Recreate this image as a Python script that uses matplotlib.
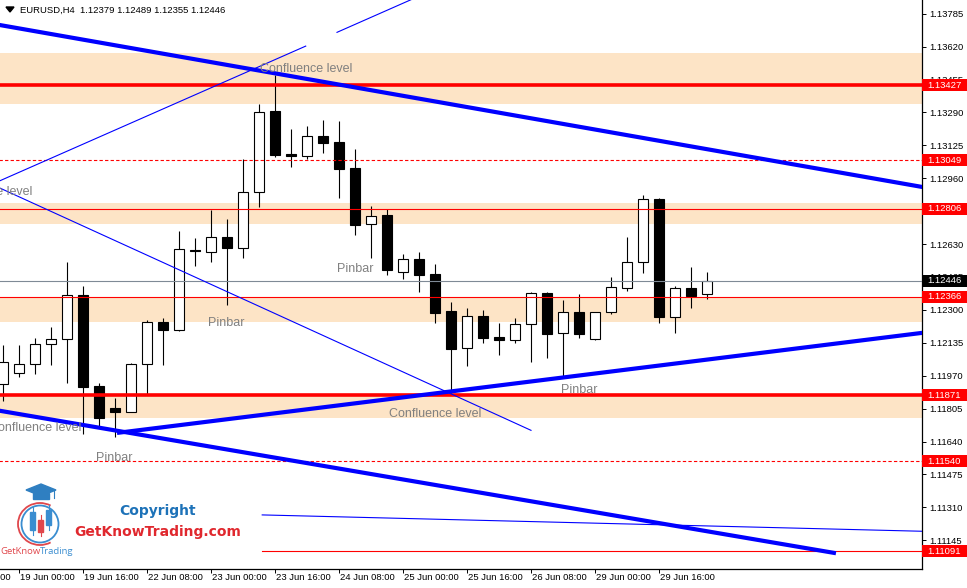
import matplotlib
matplotlib.use("Agg")
import matplotlib.pyplot as plt
from matplotlib.patches import Rectangle, Circle, Arc, Polygon

# EURUSD H4 candles, bar 0 = 18 Jun 20:00 (prices)
opens = [1.11927, 1.11982, 1.12027, 1.12127, 1.12152, 1.12374, 1.11918, 1.11808, 1.11789, 1.12027,
         1.12239, 1.12198, 1.12602, 1.12591, 1.12664, 1.12608, 1.12892, 1.13295, 1.13080, 1.13070,
         1.13171, 1.13141, 1.13011, 1.12729, 1.12774, 1.12488, 1.12553, 1.12480, 1.12294, 1.12107,
         1.12268, 1.12162, 1.12150, 1.12228, 1.12383, 1.12182, 1.12288, 1.12155, 1.12288, 1.12411,
         1.12538, 1.12854, 1.12266, 1.12408, 1.12379]
highs = [1.12124, 1.12124, 1.12157, 1.12212, 1.12540, 1.12420, 1.11932, 1.11857, 1.12032, 1.12249,
         1.12258, 1.12695, 1.12659, 1.12800, 1.12754, 1.13055, 1.13332, 1.13477, 1.13205, 1.13222,
         1.13252, 1.13247, 1.13105, 1.12821, 1.12804, 1.12578, 1.12588, 1.12530, 1.12339, 1.12308,
         1.12299, 1.12236, 1.12258, 1.12388, 1.12389, 1.12348, 1.12378, 1.12288, 1.12465, 1.12665,
         1.12876, 1.12859, 1.12420, 1.12513, 1.12489]
lows = [1.11845, 1.11965, 1.11978, 1.12023, 1.11935, 1.11676, 1.11709, 1.11664, 1.11789, 1.11878,
        1.12023, 1.12195, 1.12521, 1.12541, 1.12323, 1.12558, 1.12814, 1.13065, 1.13015, 1.13055,
        1.13085, 1.12862, 1.12677, 1.12561, 1.12476, 1.12453, 1.12391, 1.12232, 1.11880, 1.12020,
        1.12135, 1.12075, 1.12132, 1.12040, 1.12060, 1.11960, 1.12160, 1.12149, 1.12279, 1.12396,
        1.12486, 1.12236, 1.12185, 1.12311, 1.12355]
closes = [1.12037, 1.12027, 1.12127, 1.12152, 1.12373, 1.11915, 1.11759, 1.11789, 1.12028, 1.12239,
          1.12199, 1.12603, 1.12597, 1.12664, 1.12608, 1.12892, 1.13290, 1.13078, 1.13070, 1.13170,
          1.13138, 1.13007, 1.12727, 1.12772, 1.12501, 1.12553, 1.12476, 1.12286, 1.12105, 1.12268,
          1.12160, 1.12150, 1.12228, 1.12383, 1.12180, 1.12288, 1.12180, 1.12288, 1.12413, 1.12538,
          1.12854, 1.12266, 1.12408, 1.12371, 1.12446]

price_ticks = [1.13785, 1.13620, 1.13455, 1.13290, 1.13125, 1.12960, 1.12795, 1.12630, 1.12465,
               1.12300, 1.12135, 1.11970, 1.11805, 1.11640, 1.11475, 1.11310, 1.11145]
date_bars = [-3, 1, 5, 9, 13, 17, 21, 25, 29, 33, 37, 41]
date_labels = ["18 Jun 08:00", "19 Jun 00:00", "19 Jun 16:00", "22 Jun 08:00", "23 Jun 00:00",
               "23 Jun 16:00", "24 Jun 08:00", "25 Jun 00:00", "25 Jun 16:00", "26 Jun 08:00",
               "29 Jun 00:00", "29 Jun 16:00"]

# supply/demand zones
zone_lo = [1.13332, 1.12729, 1.12241, 1.11760]
zone_hi = [1.13587, 1.12836, 1.12366, 1.11871]

# horizontal levels (red) and the bar they start from
levels = [1.13427, 1.13049, 1.12806, 1.12366, 1.11871, 1.11540, 1.11091]
level_from = [-2, -2, -2, -2, -2, -2, 16.2]
last_price = 1.12446

# trend lines: (bar0, price0, bar1, price1)
thick_lines = [(-2, 1.13753, 60, 1.12880),
               (7.125, 1.11683, 60, 1.12210),
               (-1.44, 1.11811, 52.06, 1.11080)]
thin_lines = [(-1.44, 1.12903, 18.92, 1.13622),
              (20.875, 1.13691, 28, 1.13943),
              (-1.44, 1.12956, 33, 1.11696),
              (16.2, 1.11272, 60, 1.11185)]

notes = ["Confluence level", "Confluence level", "Pinbar", "Pinbar",
         "Confluence level", "Pinbar", "Confluence level", "Pinbar"]
note_bar = [16.06, -3.94, 20.875, 12.81, 24.125, 34.875, -0.875, 5.81]
note_price = [1.13507, 1.12891, 1.12505, 1.12234, 1.11778, 1.11898, 1.11708, 1.11557]

W, H = 967, 588
fig = plt.figure(figsize=(W / 100, H / 100), dpi=100)
ax = fig.add_axes([0, 19 / H, 922 / W, 569 / H])
ax.set_xlim(-0.1875, 57.4375)
ax.set_ylim(1.110009, 1.138531)

for lo, hi in zip(zone_lo, zone_hi):
    ax.axhspan(lo, hi, color="#fde4c6", lw=0, zorder=0)

# candles
for i, (o, h, l, c) in enumerate(zip(opens, highs, lows, closes)):
    ax.plot([i, i], [l, h], color="black", lw=0.8, zorder=3, solid_capstyle="butt")
    b0, b1 = min(o, c), max(o, c)
    ax.add_patch(Rectangle((i - 0.3, b0), 0.6, b1 - b0, facecolor="white" if c > o else "black",
                           edgecolor="black", lw=0.8, zorder=4))

# levels
style = {1.13427: ("-", 2.6), 1.11871: ("-", 2.6), 1.13049: ((0, (3, 2)), 0.8), 1.11540: ((0, (3, 2)), 0.8)}
for lv, x0 in zip(levels, level_from):
    ls, lw = style.get(lv, ("-", 0.8))
    ax.plot([x0, 60], [lv, lv], color="#ff0000", lw=lw, ls=ls, zorder=5)
ax.axhline(last_price, color="#7f8a96", lw=0.8, zorder=5)

for x0, p0, x1, p1 in thick_lines:
    ax.plot([x0, x1], [p0, p1], color="#0000ff", lw=3.0, zorder=6, solid_capstyle="butt")
for x0, p0, x1, p1 in thin_lines:
    ax.plot([x0, x1], [p0, p1], color="#0000ff", lw=0.8, zorder=6)

for t, x, y in zip(notes, note_bar, note_price):
    ax.text(x, y, t, fontsize=9, color="#808080", ha="left", va="center",
            family="Liberation Sans", zorder=7, clip_on=True)

# axes look
for s in ["top", "left"]:
    ax.spines[s].set_visible(False)
for s in ["right", "bottom"]:
    ax.spines[s].set_linewidth(0.9)
ax.yaxis.tick_right()
ax.set_yticks(price_ticks)
ax.set_yticklabels([f"{v:.5f}" for v in price_ticks], fontsize=6.8, family="Liberation Sans")
ax.tick_params(axis="y", length=3, width=0.7, pad=2.5)
ax.set_xticks([b for b in date_bars if b >= 0])
ax.set_xticklabels([])
ax.tick_params(axis="x", length=3, width=0.7)
xt = ax.get_xaxis_transform()
for b, lab in zip(date_bars, date_labels):
    ax.text(b + 0.05, -9 / 569, lab, transform=xt, fontsize=6.8, family="Liberation Sans",
            ha="left", va="center", clip_on=False)

# price tags on the right axis
yt = ax.get_yaxis_transform()
tags = [(lv, "#ff0000") for lv in levels] + [(last_price, "black")]
for lv, col in tags:
    ax.add_patch(Rectangle((1.0, lv - 0.0003), 45 / 922, 0.0006, transform=yt, facecolor=col,
                           edgecolor="none", clip_on=False, zorder=10))
    ax.text(1.0 + 5 / 922, lv, f"{lv:.5f}", transform=yt, color="white", fontsize=6.8,
            family="Liberation Sans", ha="left", va="center", clip_on=False, zorder=11)

# header
fig.text(20 / W, 1 - 10 / H, "EURUSD,H4  1.12379 1.12489 1.12355 1.12446", fontsize=6.8,
         family="Liberation Sans", va="center", ha="left")

# logo overlay in pixel coordinates
ov = fig.add_axes([0, 0, 1, 1])
ov.set_xlim(0, W)
ov.set_ylim(H, 0)
ov.axis("off")
ov.patch.set_alpha(0)
ov.add_patch(Polygon([(6, 7), (14, 7), (10, 12)], closed=True, color="black"))
blue, red = "#3a8dd0", "#e0474c"
ov.add_patch(Polygon([(26, 490), (41, 484), (56, 490), (41, 496)], closed=True, color="#2f7fc1"))
ov.add_patch(Polygon([(33, 493), (49, 493), (49, 499), (33, 499)], closed=True, color="#2f7fc1"))
ov.plot([54, 54], [491, 498], color="#2f7fc1", lw=0.8)
ov.add_patch(Arc((40, 524), 44, 42, theta1=60, theta2=300, color=red, lw=1.3))
ov.add_patch(Circle((40, 524), 18.5, fill=False, edgecolor=blue, lw=1.3))
for cx, b0, b1, w0, w1, col in [(32.5, 512, 530, 507, 535, blue), (40.5, 520, 532, 515, 536, red),
                                 (48.5, 510, 525, 505, 530, blue)]:
    ov.plot([cx, cx], [w0, w1], color=col, lw=0.8)
    ov.add_patch(Rectangle((cx - 2.8, b0), 5.6, b1 - b0, color=col))
ov.text(0, 551, "GetKnow", color=red, fontsize=6.8, family="Open Sans", va="center", ha="left")
ov.text(40.3, 551, "Trading", color=blue, fontsize=6.8, family="Open Sans", va="center", ha="left")
ov.text(158, 511, "Copyright", color="#1d72b8", fontsize=10, fontweight="bold",
        family="DejaVu Sans", ha="center", va="center")
ov.text(158, 532, "GetKnowTrading.com", color="#e0282e", fontsize=10, fontweight="bold",
        family="DejaVu Sans", ha="center", va="center")

fig.savefig("out.png", dpi=100)
